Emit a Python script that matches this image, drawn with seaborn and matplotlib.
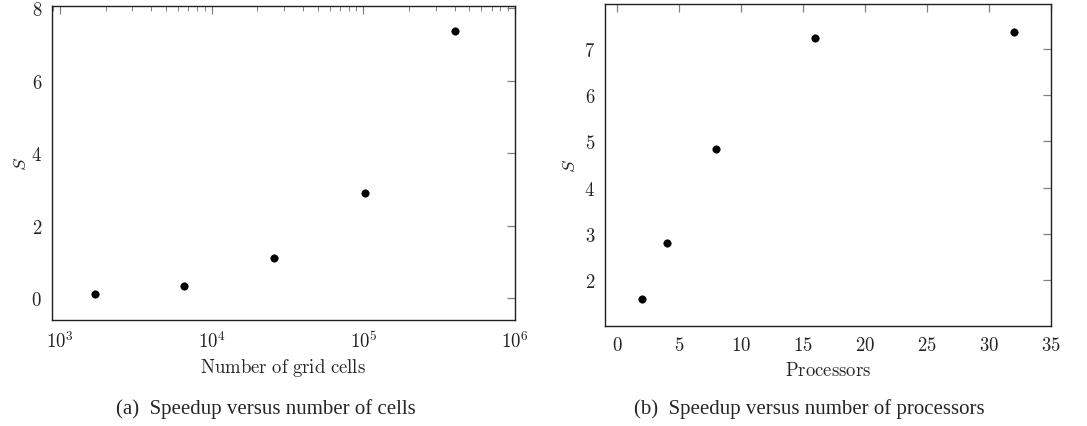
# speedup.py
# 격자 셀 수 / 프로세서 수에 따른 속도 향상(S) 산점도

import math
import matplotlib
matplotlib.use('Agg')
import matplotlib.pyplot as plt
import matplotlib.ticker as mticker
import seaborn as sns
import pandas as pd

# 데이터
cells = [1700, 6550, 25800, 102000, 405000]
speedup_cells = [0.12, 0.35, 1.10, 2.90, 7.36]

procs = [2, 4, 8, 16, 32]
speedup_procs = [1.58, 2.79, 4.84, 7.23, 7.37]

df_a = pd.DataFrame({'cells': cells, 'S': speedup_cells})
df_b = pd.DataFrame({'procs': procs, 'S': speedup_procs})

sns.set_style('white')
plt.rcParams['mathtext.fontset'] = 'cm'
plt.rcParams['font.family'] = ['Liberation Serif', 'DejaVu Serif']

fig = plt.figure(figsize=(10.87, 4.27), dpi=100)
ax1 = fig.add_axes([0.0476, 0.248, 0.4262, 0.736])
ax2 = fig.add_axes([0.5566, 0.234, 0.4100, 0.7536])

TICK_SIZE = 13.5
SPINE = '#202020'
TICK_COL = '#808080'


def style_axes(ax):
    for s in ax.spines.values():
        s.set_color(SPINE)
        s.set_linewidth(1.0)
    ax.tick_params(which='both', direction='in', top=True, right=True,
                   color=TICK_COL, labelsize=TICK_SIZE, labelcolor='#222222')
    ax.tick_params(which='major', length=6, width=0.9, pad=7)
    ax.tick_params(which='minor', length=3.5, width=0.7)


# (a) 셀 수 대비 속도 향상
sns.scatterplot(data=df_a, x='cells', y='S', ax=ax1, color='black', s=28,
                edgecolor='black', linewidth=0.5)
ax1.set_xscale('log')
ax1.set_xlim(10 ** 2.945, 10 ** 6.0)
ax1.set_ylim(-0.6, 8.06)
ax1.xaxis.set_major_locator(mticker.FixedLocator([1e3, 1e4, 1e5, 1e6]))
minor = [m * 10 ** e for e in range(2, 6) for m in range(2, 10)]
ax1.xaxis.set_minor_locator(mticker.FixedLocator(minor))
ax1.xaxis.set_minor_formatter(mticker.NullFormatter())
ax1.xaxis.set_major_formatter(mticker.FuncFormatter(lambda v, p: r'$10^{%d}$' % round(math.log10(v))))
ax1.set_yticks([0, 2, 4, 6, 8])
ax1.yaxis.set_major_formatter(mticker.FuncFormatter(lambda v, p: r'$%g$' % v))
ax1.set_xlabel(r'$\mathrm{Number\ of\ grid\ cells}$', fontsize=TICK_SIZE, labelpad=4)
ax1.set_ylabel(r'$S$', fontsize=TICK_SIZE, labelpad=1)
style_axes(ax1)

# (b) 프로세서 수 대비 속도 향상
sns.scatterplot(data=df_b, x='procs', y='S', ax=ax2, color='black', s=28,
                edgecolor='black', linewidth=0.5)
ax2.set_xlim(-1, 35)
ax2.set_ylim(1.0, 7.97)
ax2.set_xticks([0, 5, 10, 15, 20, 25, 30, 35])
ax2.set_yticks([2, 3, 4, 5, 6, 7])
fmt = mticker.FuncFormatter(lambda v, p: r'$%g$' % v)
ax2.xaxis.set_major_formatter(fmt)
ax2.yaxis.set_major_formatter(fmt)
ax2.set_xlabel(r'$\mathrm{Processors}$', fontsize=TICK_SIZE, labelpad=5)
ax2.set_ylabel(r'$S$', fontsize=TICK_SIZE, labelpad=4)
style_axes(ax2)

# 부제목
fig.text(266 / 1087, 1 - 409 / 427, '(a)  Speedup versus number of cells',
         ha='center', va='center', fontsize=15)
fig.text(809 / 1087, 1 - 409 / 427, '(b)  Speedup versus number of processors',
         ha='center', va='center', fontsize=15)

fig.savefig('out.png', dpi=100)
